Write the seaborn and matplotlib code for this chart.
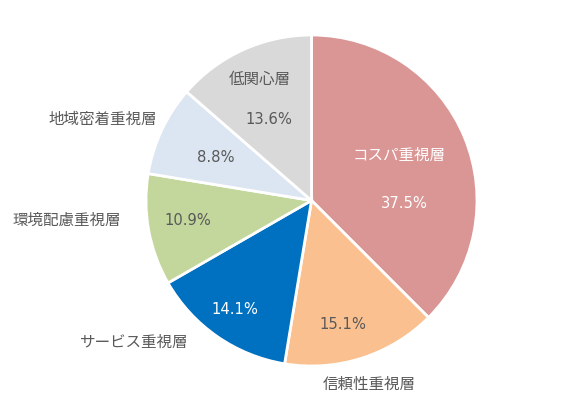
import matplotlib
matplotlib.use("Agg")
import matplotlib.pyplot as plt
import seaborn as sns
import numpy as np

categories = ["コスパ重視層", "信頼性重視層", "サービス重視層", "環境配慮重視層", "地域密着重視層", "低関心層"]
values = [37.5, 15.1, 14.1, 10.9, 8.8, 13.6]
pct_labels = ["37.5%", "15.1%", "14.1%", "10.9%", "8.8%", "13.6%"]
colors = ["#D99694", "#FAC090", "#0070C0", "#C3D69B", "#DCE6F2", "#D9D9D9"]
pct_colors = ["#FFFFFF", "#595959", "#FFFFFF", "#595959", "#595959", "#595959"]
name_colors = ["#FFFFFF", "#595959", "#595959", "#595959", "#595959", "#595959"]

# label layout (relative to pie centre, in radius units)
name_pos = [(0.53, 0.27), (0.35, -1.11), (-1.07, -0.86), (-1.48, -0.12), (-1.26, 0.49), (-0.31, 0.73)]
pct_pos = [(0.56, -0.02), (0.19, -0.75), (-0.46, -0.66), (-0.75, -0.12), (-0.58, 0.26), (-0.26, 0.49)]

sns.set_theme(style="white")
plt.rcParams['font.family'] = ['Noto Sans CJK JP', 'DejaVu Sans']

W, H = 579, 403
fig = plt.figure(figsize=(W / 100, H / 100), dpi=100)
ax = fig.add_axes([0, 0, 1, 1])
cx, cy, r = 311.5, 200.5, 165.5

pal = sns.color_palette(colors)
ax.pie(values, colors=pal, startangle=90, counterclock=False, radius=1,
       wedgeprops=dict(edgecolor="white", linewidth=2))
ax.set_aspect("auto")
ax.set_xlim(-cx / r, (W - cx) / r)
ax.set_ylim(-(H - cy) / r, cy / r)
ax.axis("off")

for name, (nx, ny), nc in zip(categories, name_pos, name_colors):
    ax.text(nx, ny, name, ha="center", va="center", fontsize=11.2, color=nc)
for p, (px, py), pc in zip(pct_labels, pct_pos, pct_colors):
    ax.text(px, py, p, ha="center", va="center", fontsize=10.6, color=pc,
            family=["DejaVu Sans"])

fig.savefig("out.png", dpi=100, facecolor="white")
